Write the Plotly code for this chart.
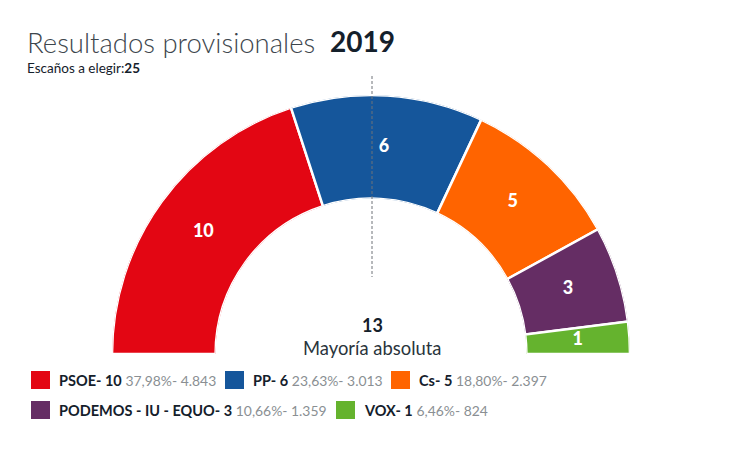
import numpy as np
import plotly.graph_objects as go

parties = ["PSOE", "PP", "Cs", "PODEMOS - IU - EQUO", "VOX"]
seats = [10, 6, 5, 3, 1]
percents = ["37,98%", "23,63%", "18,80%", "10,66%", "6,46%"]
votes = ["4.843", "3.013", "2.397", "1.359", "824"]
colors = ["#e30613", "#15569b", "#ff6400", "#652d64", "#65b32e"]
majority = 13
total_seats = 25
year = "2019"

W, H = 730, 451
OFF = 8  # the page's own margin around the plot
FONT = "Lato, Carlito, sans-serif"
INK = "#14202b"
GREY = "#8a8f93"

def px(x):
    return (x - OFF) / W
def py(y):
    return 1 - (y - OFF) / H

s = np.array(seats, dtype=float)
deg = s / s.sum() * 180
centres = np.cumsum(deg) - deg / 2

fig = go.Figure()
fig.add_trace(go.Barpolar(
    r=[1] * len(seats), theta=centres, width=deg,
    marker=dict(color=colors, line=dict(color="white", width=2.5)),
    hoverinfo="skip", showlegend=False,
))
fig.add_trace(go.Scatterpolar(
    r=[0.5] * len(seats), theta=centres, mode="text",
    text=[str(v) for v in seats],
    textfont=dict(family=FONT, size=18, color="white", weight=900),
    hoverinfo="skip", showlegend=False,
))

shapes = [dict(type="line", xref="paper", yref="paper",
               x0=px(372), x1=px(372), y0=py(76), y1=py(277),
               line=dict(color="#6f7378", width=1, dash="3px,2px"), layer="above")]

ann = []
def text(x, y, t, size, color=INK, anchor="left", weight=None):
    f = dict(family=FONT, size=size, color=color)
    if weight:
        f["weight"] = weight
    ann.append(dict(xref="paper", yref="paper", x=px(x), y=py(y), text=t,
                    showarrow=False, xanchor=anchor, yanchor="middle",
                    font=f, align=anchor))

text(25, 42, "Resultados provisionales", 27.5, "#3d464d", weight=300)
text(328, 41, year, 28, INK, weight=700)
text(25, 68, f"Escaños a elegir:<b>{total_seats}</b>", 13.5, INK)
text(372, 325, f"<b>{majority}</b>", 18, INK, "center")
text(372, 348, "Mayoría absoluta", 18.4, "#2a343c", "center")

# x of swatch, y of row
slots = [(31, 380), (225, 380), (391, 380), (31, 410), (336, 410)]
for name, n, p, v, c, (x, y) in zip(parties, seats, percents, votes, colors, slots):
    shapes.append(dict(type="rect", xref="paper", yref="paper",
                       x0=px(x), x1=px(x + 19), y0=py(y - 9), y1=py(y + 9),
                       fillcolor=c, line=dict(width=0)))
    text(x + 26, y, f"<b>{name}- {n}</b> <span style='font-size:13.9px;color:{GREY}'>{p}- {v}</span>", 14.5, INK)

fig.update_layout(
    width=W, height=H, margin=dict(l=0, r=0, t=0, b=0),
    paper_bgcolor="white", plot_bgcolor="white",
    shapes=shapes, annotations=ann, showlegend=False,
    polar=dict(
        domain=dict(x=[px(111.5), px(630.5)], y=[py(354), py(95)]),
        sector=[0, 180], hole=0.6, bgcolor="white",
        radialaxis=dict(range=[0, 1], visible=False),
        angularaxis=dict(visible=False, direction="clockwise", rotation=180),
        bargap=0,
    ),
)
fig.write_html("out.html")
